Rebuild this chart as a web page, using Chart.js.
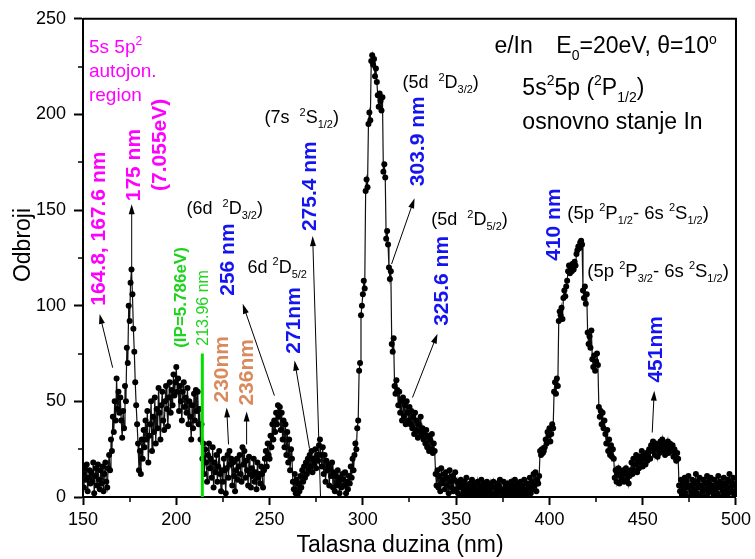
<!DOCTYPE html>
<html>
<head>
<meta charset="utf-8">
<script src="https://cdn.jsdelivr.net/npm/chart.js@4.4.0/dist/chart.umd.min.js"></script>
<style>
  html, body { margin: 0; padding: 0; background: #fff; }
  #wrap { width: 755px; height: 559px; }
</style>
</head>
<body>
<div id="wrap"><canvas id="c" width="755" height="559"></canvas></div>
<script>
// Electron-impact emission spectrum of indium, counts per 0.5 nm step
const FONT = '"Liberation Sans", Arial, Helvetica, sans-serif';
const STEP_NM = 0.5;

const counts150 = [
  12,5,15,9,17,3,10,14,7,13,
  8,18,2,11,15,6,17,9,4,14,
  7,16,3,12,18,8,5,15,22,14,
  30,24,42,34,50,40,62,46,55,44,
  52,40,31,45,36,58,50,78,70,100,
  92,112,119,106,88,76,60,48,38,28,
  14,24,12,30,20,35,26,40,30,45,
  18,32,38,50,24,42,34,52,28,46,
  36,57,44,30,48,55,40,35,50,58,
  46,37,52,60,44,56,48,64,53,60
];
const counts200 = [
  68,55,62,45,58,50,40,55,60,47,
  52,44,57,38,50,42,30,48,36,54,
  40,56,45,55,38,46,30,38,20,28,
  12,25,18,8,22,28,15,20,10,26,
  5,18,13,22,8,16,24,12,3,14,
  8,20,14,2,15,22,10,24,17,20,
  6,18,11,3,14,20,9,16,22,12,
  8,26,17,24,10,19,14,6,21,12,
  5,15,11,20,8,13,4,18,10,12,
  7,16,12,5,14,20,24,16,28,22
];
const counts250 = [
  20,32,26,38,30,40,34,44,38,48,
  42,47,35,44,30,40,26,38,22,34,
  18,30,14,25,20,8,4,12,2,9,
  1,7,3,11,5,14,8,16,10,18,
  12,20,14,22,16,24,13,20,17,25,
  15,22,19,27,30,22,16,26,12,22,
  8,19,14,17,6,15,11,18,5,13,
  3,11,6,14,8,2,10,5,12,9,
  6,13,2,8,4,11,7,16,10,20,
  14,22,28,25,36,40,66,70,95,100
];
const counts300 = [
  106,113,109,160,166,162,195,201,197,228,
  231,226,229,220,224,217,210,204,211,207,
  202,209,170,174,167,135,139,132,120,114,
  118,80,76,83,58,54,61,56,48,55,
  44,50,40,52,42,48,38,50,44,40,
  47,38,45,36,42,33,44,35,40,31,
  38,34,42,32,36,30,34,28,35,26,
  32,24,30,25,33,23,28,24,12,6,
  14,5,11,3,15,7,9,12,4,13,
  6,10,2,14,8,5,11,3,9,13
];
const counts350 = [
  4,8,2,7,5,9,1,6,3,8,
  2,10,4,6,1,7,3,9,2,5,
  7,1,4,8,2,6,3,9,1,5,
  7,2,4,8,0,6,3,7,1,5,
  8,2,5,1,7,3,6,9,2,4,
  1,8,3,6,2,7,4,1,5,8,
  3,6,1,9,4,2,7,5,1,8,
  3,6,2,9,4,1,7,3,5,10,
  2,8,4,12,6,13,3,9,7,11,
  24,22,25,23,24,26,30,28,34,32
];
const counts400 = [
  36,29,33,38,36,55,60,54,62,58,
  92,97,95,99,93,104,108,105,110,113,
  118,121,117,120,118,122,119,123,121,127,
  129,131,130,133,134,132,108,104,110,101,
  106,86,80,84,78,87,72,68,74,66,
  71,75,69,47,42,45,38,44,36,40,
  33,28,35,24,30,22,27,21,25,20,
  10,14,8,12,15,7,11,13,9,14,
  8,12,15,9,13,7,11,14,18,12,
  20,14,17,22,13,19,15,21,18,24
];
const counts450 = [
  16,20,22,17,23,19,21,25,20,27,
  24,29,26,22,28,25,21,27,23,29,
  26,30,24,28,22,27,25,29,23,28,
  26,24,27,21,25,22,19,23,20,6,
  3,9,1,7,4,10,2,8,5,11,
  0,6,3,9,1,7,4,12,2,8,
  5,10,1,6,3,9,0,7,4,11,
  2,8,5,10,3,6,1,9,4,7,
  2,11,5,8,0,6,3,10,1,7,
  4,9,2,12,5,8,3,10,1,7,
  6
];
const segmentStarts = [150, 200, 250, 300, 350, 400, 450];
const segmentCounts = [counts150, counts200, counts250, counts300, counts350, counts400, counts450];

// Ionisation limit marker
const IP_NM = 213.96;
const IP_MARK_TOP = 75;

const xTicks = [150, 200, 250, 300, 350, 400, 450, 500];
const yTicks = [0, 50, 100, 150, 200, 250];

const spectrum = [];
segmentStarts.forEach((start, s) => {
  segmentCounts[s].forEach((v, i) => spectrum.push({ x: start + i * STEP_NM, y: v }));
});

const MAGENTA = '#ff00ff';
const BLUE = '#1414f0';
const ORANGE = '#d98a5c';
const GREEN = '#1ed21e';

// Vertical transition labels, anchored at their lower end (x in nm, y in counts)
const verticalLabels = [
  { text: '164.8, 167.6 nm', x: 158.9, y: 100.0, color: MAGENTA, size: 21, bold: true },
  { text: '175 nm', x: 177.2, y: 154.6, color: MAGENTA, size: 21, bold: true },
  { text: '(7.055eV)', x: 191.6, y: 160.0, color: MAGENTA, size: 21, bold: true },
  { text: '(IP=5.786eV)', x: 202.9, y: 78.0, color: GREEN, size: 17, bold: true },
  { text: '213.96 nm', x: 214.7, y: 79.1, color: GREEN, size: 16, bold: false },
  { text: '230nm', x: 224.8, y: 49.4, color: ORANGE, size: 21, bold: true },
  { text: '236nm', x: 238.2, y: 47.8, color: ORANGE, size: 21, bold: true },
  { text: '256 nm', x: 228.0, y: 105.2, color: BLUE, size: 21, bold: true },
  { text: '271nm', x: 263.4, y: 74.9, color: BLUE, size: 21, bold: true },
  { text: '275.4 nm', x: 272.0, y: 139.0, color: BLUE, size: 21, bold: true },
  { text: '303.9 nm', x: 329.8, y: 162.5, color: BLUE, size: 21, bold: true },
  { text: '325.6 nm', x: 342.7, y: 89.5, color: BLUE, size: 21, bold: true },
  { text: '410 nm', x: 402.3, y: 123.5, color: BLUE, size: 21, bold: true },
  { text: '451nm', x: 457.2, y: 59.8, color: BLUE, size: 21, bold: true }
];

// Horizontal labels with super/subscripts, anchored at the left end of the baseline
const richLabels = [
  { x: 153.2, y: 231.9, size: 19, color: MAGENTA, parts: [['5s 5p'], ['2', 'sup']] },
  { x: 153.2, y: 219.4, size: 19, color: MAGENTA, parts: [['autojon.']] },
  { x: 153.2, y: 206.9, size: 19, color: MAGENTA, parts: [['region']] },
  { x: 205.5, y: 147.9, size: 18, color: '#000', parts: [['(6d  '], ['2', 'sup'], ['D'], ['3/2', 'sub'], [')']] },
  { x: 238.2, y: 117.2, size: 18, color: '#000', parts: [['6d '], ['2', 'sup'], ['D'], ['5/2', 'sub']] },
  { x: 247.3, y: 195.4, size: 18, color: '#000', parts: [['(7s  '], ['2', 'sup'], ['S'], ['1/2', 'sub'], [')']] },
  { x: 321.2, y: 213.7, size: 18, color: '#000', parts: [['(5d  '], ['2', 'sup'], ['D'], ['3/2', 'sub'], [')']] },
  { x: 336.7, y: 142.1, size: 18, color: '#000', parts: [['(5d  '], ['2', 'sup'], ['D'], ['5/2', 'sub'], [')']] },
  { x: 370.5, y: 231.9, size: 23, color: '#000', parts: [['e/In']] },
  { x: 403.7, y: 231.9, size: 23, color: '#000', parts: [['E'], ['0', 'sub'], ['=20eV, \u03b8=10'], ['o', 'sup']] },
  { x: 385.5, y: 210.1, size: 23, color: '#000', parts: [['5s'], ['2', 'sup'], ['5p ('], ['2', 'sup'], ['P'], ['1/2', 'sub'], [')']] },
  { x: 385.5, y: 192.3, size: 23, color: '#000', parts: [['osnovno stanje In']] },
  { x: 409.6, y: 145.3, size: 18.5, color: '#000', parts: [['(5p '], ['2', 'sup'], ['P'], ['1/2', 'sub'], ['- 6s '], ['2', 'sup'], ['S'], ['1/2', 'sub'], [')']] },
  { x: 420.3, y: 115.0, size: 18.5, color: '#000', parts: [['(5p '], ['2', 'sup'], ['P'], ['3/2', 'sub'], ['- 6s '], ['2', 'sup'], ['S'], ['1/2', 'sub'], [')']] }
];

// Arrows: [fromX, fromY, toX, toY] in data units, head at the "to" end
const arrows = [
  [165.9, 67.6, 158.9, 95.7],
  [176.1, 119.4, 176.1, 153.1],
  [228.0, 27.5, 227.0, 46.8],
  [237.7, 27.5, 237.7, 44.7],
  [252.6, 53.0, 235.6, 101.0],
  [271.4, 25.4, 263.4, 71.3],
  [277.3, 0.4, 273.1, 136.4],
  [315.4, 121.8, 327.7, 156.2],
  [326.6, 52.0, 340.0, 85.4],
  [455.1, 33.7, 456.2, 55.6]
];

function fontStr(size, bold) {
  return (bold ? 'bold ' : '') + size + 'px ' + FONT;
}

function drawRich(ctx, parts, x, y, size, color) {
  ctx.fillStyle = color;
  ctx.textAlign = 'left';
  ctx.textBaseline = 'alphabetic';
  let cx = x;
  parts.forEach(([t, kind]) => {
    let fs = size, dy = 0;
    if (kind === 'sup') { fs = Math.round(size * 0.62); dy = -size * 0.42; }
    if (kind === 'sub') { fs = Math.round(size * 0.62); dy = size * 0.28; }
    ctx.font = fontStr(fs, false);
    ctx.fillText(t, cx, y + dy);
    cx += ctx.measureText(t).width;
  });
}

function drawArrow(ctx, x1, y1, x2, y2) {
  const ang = Math.atan2(y2 - y1, x2 - x1);
  const head = 10, half = 3;
  ctx.strokeStyle = '#000';
  ctx.lineWidth = 1;
  ctx.beginPath();
  ctx.moveTo(x1, y1);
  ctx.lineTo(x2 - Math.cos(ang) * head * 0.8, y2 - Math.sin(ang) * head * 0.8);
  ctx.stroke();
  ctx.fillStyle = '#000';
  ctx.beginPath();
  ctx.moveTo(x2, y2);
  ctx.lineTo(x2 - Math.cos(ang) * head - Math.sin(ang) * half, y2 - Math.sin(ang) * head + Math.cos(ang) * half);
  ctx.lineTo(x2 - Math.cos(ang) * head + Math.sin(ang) * half, y2 - Math.sin(ang) * head - Math.cos(ang) * half);
  ctx.closePath();
  ctx.fill();
}

const framePlugin = {
  id: 'frameAndTicks',
  afterDraw(chart) {
    const { ctx, chartArea: a, scales: { x, y } } = chart;
    ctx.save();
    ctx.strokeStyle = '#000';
    ctx.lineWidth = 2;
    ctx.beginPath();
    ctx.moveTo(a.left, a.top);
    ctx.lineTo(a.right, a.top);
    ctx.lineTo(a.right, a.bottom);
    ctx.stroke();
    // minor ticks halfway between labelled ticks
    ctx.lineWidth = 1.5;
    ctx.beginPath();
    for (let i = 0; i < xTicks.length - 1; i++) {
      const px = Math.round(x.getPixelForValue((xTicks[i] + xTicks[i + 1]) / 2));
      ctx.moveTo(px, a.bottom);
      ctx.lineTo(px, a.bottom + 5);
    }
    for (let i = 0; i < yTicks.length - 1; i++) {
      const py = Math.round(y.getPixelForValue((yTicks[i] + yTicks[i + 1]) / 2));
      ctx.moveTo(a.left, py);
      ctx.lineTo(a.left - 5, py);
    }
    ctx.stroke();

    // axis titles
    ctx.fillStyle = '#000';
    ctx.font = fontStr(23, false);
    ctx.textAlign = 'center';
    ctx.textBaseline = 'alphabetic';
    ctx.fillText('Talasna duzina (nm)', 400, 552);
    ctx.save();
    ctx.translate(30, 245);
    ctx.rotate(-Math.PI / 2);
    ctx.fillText('Odbroji', 0, 0);
    ctx.restore();
    ctx.restore();
  }
};

const annotationPlugin = {
  id: 'lineAnnotations',
  afterDatasetsDraw(chart) {
    const { ctx, scales: { x, y } } = chart;
    ctx.save();
    arrows.forEach(([a, b, c, d]) => {
      drawArrow(ctx, x.getPixelForValue(a), y.getPixelForValue(b), x.getPixelForValue(c), y.getPixelForValue(d));
    });
    verticalLabels.forEach(l => {
      ctx.save();
      ctx.translate(x.getPixelForValue(l.x), y.getPixelForValue(l.y));
      ctx.rotate(-Math.PI / 2);
      ctx.font = fontStr(l.size, l.bold);
      ctx.fillStyle = l.color;
      ctx.textAlign = 'left';
      ctx.textBaseline = 'middle';
      ctx.fillText(l.text, 0, 0);
      ctx.restore();
    });
    richLabels.forEach(l => {
      drawRich(ctx, l.parts, x.getPixelForValue(l.x), y.getPixelForValue(l.y), l.size, l.color);
    });
    ctx.restore();
  }
};

new Chart(document.getElementById('c'), {
  type: 'scatter',
  data: {
    datasets: [
      {
        label: 'IP',
        data: [{ x: IP_NM, y: 0 }, { x: IP_NM, y: IP_MARK_TOP }],
        showLine: true,
        borderColor: '#00e000',
        borderWidth: 3,
        pointRadius: 0,
        order: 0
      },
      {
        label: 'e/In',
        data: spectrum,
        showLine: true,
        borderColor: '#111',
        borderWidth: 1.2,
        pointRadius: 3,
        pointBackgroundColor: '#000',
        pointBorderWidth: 0,
        tension: 0,
        order: 1
      }
    ]
  },
  options: {
    responsive: false,
    animation: false,
    devicePixelRatio: 1,
    layout: { padding: { left: 0, right: 18, top: 17, bottom: 0 } },
    plugins: { legend: { display: false }, tooltip: { enabled: false } },
    scales: {
      x: {
        type: 'linear', min: 150, max: 500,
        afterBuildTicks: s => { s.ticks = xTicks.map(v => ({ value: v })); },
        afterFit: s => { s.height = 62; },
        ticks: { font: { family: FONT, size: 18 }, color: '#000', padding: 4, maxRotation: 0, autoSkip: false },
        grid: { drawOnChartArea: false, drawTicks: true, tickLength: 8, tickWidth: 2, tickColor: '#000' },
        border: { color: '#000', width: 2 }
      },
      y: {
        type: 'linear', min: 0, max: 250,
        afterBuildTicks: s => { s.ticks = yTicks.map(v => ({ value: v })); },
        afterFit: s => { s.width = 83; },
        ticks: { font: { family: FONT, size: 18 }, color: '#000', padding: 8 },
        grid: { drawOnChartArea: false, drawTicks: true, tickLength: 9, tickWidth: 2, tickColor: '#000' },
        border: { color: '#000', width: 2 }
      }
    }
  },
  plugins: [framePlugin, annotationPlugin]
});
</script>
</body>
</html>
